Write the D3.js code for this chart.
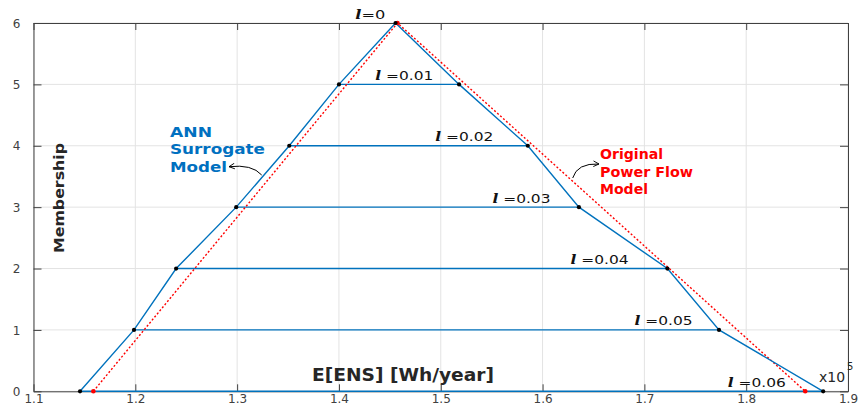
<!DOCTYPE html>
<html>
<head>
<meta charset="utf-8">
<script src="https://cdn.jsdelivr.net/npm/d3@7"></script>
<style>
	body { margin: 0; background: #fff; }
	svg { display: block; font-family: "DejaVu Sans", Verdana, sans-serif; }
</style>
</head>
<body>
<script>
(function() {

	// membership levels (y) and the alpha-cut ends of each fuzzy curve (x, in Wh/year)
	var levels = [0, 1, 2, 3, 4, 5, 6];
	var annLeft = [114570, 119870, 124010, 129910, 135120, 140000, 145560];
	var annRight = [187560, 177330, 172260, 163570, 158550, 151800, 145560];

	// original power flow model: triangle
	var origX = [115880, 145750, 185800];
	var origY = [0, 6, 0];

	// alpha-cut labels, one per level (level 6 is the top)
	var cutLabels = ["0.06", "0.05", "0.04", "0.03", "0.02", "0.01", "0"];
	var cutLabelX = [178190, 169040, 162750, 155080, 149470, 143570, 141610];

	var xTicks = [110000, 120000, 130000, 140000, 150000, 160000, 170000, 180000, 190000];
	var yTicks = [0, 1, 2, 3, 4, 5, 6];

	var blue = "#0072BD";
	var red = "#FF0000";

	var W = 859, H = 407;
	var margin = { top: 23, right: 11, bottom: 15.7, left: 33.5 };
	var width = W - margin.left - margin.right;
	var height = H - margin.top - margin.bottom;

	var svg = d3.select("body")
		.append("svg")
		.attr("width", W)
		.attr("height", H);

	var g = svg.append("g")
		.attr("transform", "translate(" + margin.left + "," + margin.top + ")");

	var x = d3.scaleLinear().domain([110000, 190000]).range([0, width]);
	var y = d3.scaleLinear().domain([0, 6]).range([height, 0]);

	// grid
	g.append("g").selectAll("line")
		.data(xTicks)
		.enter().append("line")
		.attr("x1", function(d) { return x(d); })
		.attr("x2", function(d) { return x(d); })
		.attr("y1", 0).attr("y2", height)
		.attr("stroke", "#e3e3e3");

	g.append("g").selectAll("line")
		.data(yTicks)
		.enter().append("line")
		.attr("x1", 0).attr("x2", width)
		.attr("y1", function(d) { return y(d); })
		.attr("y2", function(d) { return y(d); })
		.attr("stroke", "#e3e3e3");

	// axes, ticks inside like matlab
	var xAxis = d3.axisBottom(x).tickValues(xTicks).tickSizeInner(-7).tickSizeOuter(0)
		.tickPadding(3)
		.tickFormat(function(d) { return d3.format(".1f")(d / 1e5); });
	var gx = g.append("g")
		.attr("transform", "translate(0," + height + ")")
		.call(xAxis);

	var xTop = d3.axisTop(x).tickValues(xTicks).tickSizeInner(-7).tickSizeOuter(0).tickFormat("");
	var gxt = g.append("g").call(xTop);

	var yAxis = d3.axisLeft(y).tickValues(yTicks).tickSizeInner(-8).tickSizeOuter(0)
		.tickPadding(13).tickFormat(d3.format("d"));
	var gy = g.append("g").call(yAxis);

	var yRight = d3.axisRight(y).tickValues(yTicks).tickSizeInner(-8).tickSizeOuter(0).tickFormat("");
	var gyr = g.append("g")
		.attr("transform", "translate(" + width + ",0)")
		.call(yRight);

	[gx, gxt, gy, gyr].forEach(function(a) {
		a.select(".domain").attr("stroke", "#404040");
		a.selectAll(".tick line").attr("stroke", "#404040");
		a.selectAll("text")
			.attr("fill", "#404040")
			.style("font-size", "12px")
			.style("font-family", "DejaVu Sans");
	});
	gy.selectAll("text").attr("dy", "0.35em");

	// horizontal alpha-cut lines
	g.append("g").selectAll("line")
		.data(levels)
		.enter().append("line")
		.attr("x1", function(d, i) { return x(annLeft[i]); })
		.attr("x2", function(d, i) { return x(annRight[i]); })
		.attr("y1", function(d) { return y(d); })
		.attr("y2", function(d) { return y(d); })
		.attr("stroke", blue)
		.attr("stroke-width", 1.4);

	// original model, red dotted
	var origPts = origX.map(function(v, i) { return [v, origY[i]]; });
	var line = d3.line()
		.x(function(d) { return x(d[0]); })
		.y(function(d) { return y(d[1]); });

	g.append("path")
		.datum(origPts)
		.attr("d", line)
		.attr("fill", "none")
		.attr("stroke", red)
		.attr("stroke-width", 1.4)
		.attr("stroke-dasharray", "2,2");

	// ANN surrogate outline
	var annPts = levels.map(function(l, i) { return [annLeft[i], l]; })
		.concat(levels.slice(0, -1).reverse().map(function(l) { return [annRight[l], l]; }));

	g.append("path")
		.datum(annPts)
		.attr("d", line)
		.attr("fill", "none")
		.attr("stroke", blue)
		.attr("stroke-width", 1.4);

	// vertex dots
	g.append("g").selectAll("circle")
		.data(origPts)
		.enter().append("circle")
		.attr("cx", function(d) { return x(d[0]); })
		.attr("cy", function(d) { return y(d[1]); })
		.attr("r", 2.3)
		.attr("fill", red);

	g.append("g").selectAll("circle")
		.data(annPts)
		.enter().append("circle")
		.attr("cx", function(d) { return x(d[0]); })
		.attr("cy", function(d) { return y(d[1]); })
		.attr("r", 2.1)
		.attr("fill", "#000");

	// alpha-cut labels
	var lab = g.append("g").selectAll("text")
		.data(levels)
		.enter().append("text")
		.attr("x", function(d, i) { return x(cutLabelX[i]); })
		.attr("y", function(d) { return y(d) - (d == 6 ? 4 : 4.5); })
		.attr("textLength", function(d) { return d == 6 ? 30 : 58; })
		.attr("lengthAdjust", "spacingAndGlyphs")
		.style("font-size", "12px")
		.attr("fill", "#111");
	lab.append("tspan")
		.style("font-family", "DejaVu Serif")
		.style("font-style", "italic")
		.style("font-weight", "bold")
		.text("l");
	lab.append("tspan")
		.text(function(d, i) { return (d == 6 ? "=" : " =") + cutLabels[i]; });

	// annotations
	function block(lines, lens, x0, y0, color) {
		lines.forEach(function(t, i) {
			g.append("text")
				.attr("x", x0)
				.attr("y", y0 + i * 17.5)
				.attr("textLength", lens[i])
				.attr("lengthAdjust", "spacingAndGlyphs")
				.attr("fill", color)
				.style("font-size", "14px")
				.style("font-weight", "bold")
				.text(t);
		});
	}
	block(["ANN", "Surrogate", "Model"], [42, 95, 57], 170 - margin.left, 136.7 - margin.top, "#0070C0");
	block(["Original", "Power Flow", "Model"], [63, 93, 48], 600 - margin.left, 159.3 - margin.top, red);

	svg.append("defs").append("marker")
		.attr("id", "arr")
		.attr("viewBox", "0 0 10 10")
		.attr("refX", 9).attr("refY", 5)
		.attr("markerWidth", 7).attr("markerHeight", 7)
		.attr("orient", "auto")
		.append("path")
		.attr("d", "M1,1 L9,5 L1,9")
		.attr("fill", "none")
		.attr("stroke", "#000")
		.attr("stroke-width", 1.3);

	g.append("path")
		.attr("d", "M" + (261.7 - margin.left) + "," + (175 - margin.top) +
			" Q" + (252 - margin.left) + "," + (164 - margin.top) +
			" " + (229 - margin.left) + "," + (166.7 - margin.top))
		.attr("fill", "none")
		.attr("stroke", "#000")
		.attr("stroke-width", 1)
		.attr("marker-end", "url(#arr)");

	g.append("path")
		.attr("d", "M" + (572.7 - margin.left) + "," + (178 - margin.top) +
			" Q" + (577 - margin.left) + "," + (163 - margin.top) +
			" " + (599 - margin.left) + "," + (164 - margin.top))
		.attr("fill", "none")
		.attr("stroke", "#000")
		.attr("stroke-width", 1)
		.attr("marker-end", "url(#arr)");

	// axis titles
	svg.append("text")
		.attr("x", 403)
		.attr("y", 381)
		.attr("text-anchor", "middle")
		.attr("textLength", 182)
		.attr("lengthAdjust", "spacingAndGlyphs")
		.attr("fill", "#262626")
		.style("font-size", "18px")
		.style("font-weight", "bold")
		.text("E[ENS] [Wh/year]");

	svg.append("text")
		.attr("transform", "translate(64,198) rotate(-90)")
		.attr("text-anchor", "middle")
		.attr("textLength", 110)
		.attr("lengthAdjust", "spacingAndGlyphs")
		.attr("fill", "#262626")
		.style("font-size", "14px")
		.style("font-weight", "bold")
		.text("Membership");

	svg.append("text")
		.attr("x", 819)
		.attr("y", 382)
		.attr("fill", "#262626")
		.style("font-size", "14px")
		.text("x10");
	svg.append("text")
		.attr("x", 847)
		.attr("y", 370)
		.attr("fill", "#262626")
		.style("font-size", "10px")
		.text("5");

})();
</script>
</body>
</html>
